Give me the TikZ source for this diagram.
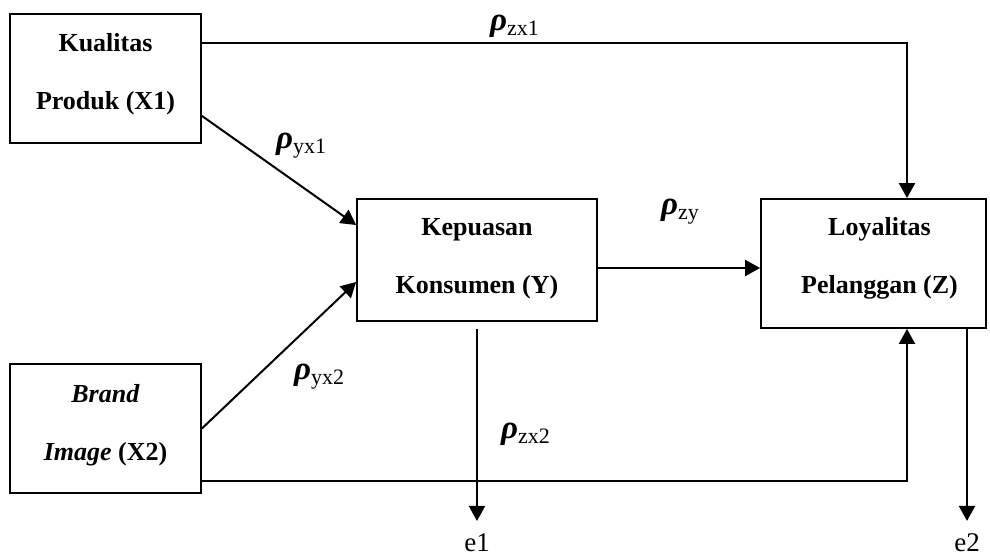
\documentclass[tikz,border=0pt]{standalone}
\usepackage{fontspec}
\setmainfont{Liberation Serif}
\usetikzlibrary{arrows.meta}
\newcommand\rhlab[1]{{\fontsize{33}{33}\selectfont\bfseries\itshape ρ}{\fontsize{22}{22}\selectfont\raisebox{-5pt}{#1}}}
\begin{document}
\begin{tikzpicture}[x=1pt,y=-1pt,
  box/.style={draw, line width=1.8pt, minimum width=#1, inner sep=0pt},
  box/.default=191pt,
  btxt/.style={inner sep=0pt, align=center, font=\fontsize{26}{58}\selectfont\bfseries},
  conn/.style={line width=2pt},
  arr/.style={conn, -{Triangle[length=15pt,width=16pt]}},
  lbl/.style={inner sep=0pt, anchor=base west},
  elbl/.style={inner sep=0pt, anchor=base, font=\fontsize{27}{27}\selectfont}]
\useasboundingbox (0,0) rectangle (990,559);
\node[box, minimum height=129pt] (X1) at (105.5,78.5) {};
\node[box, minimum height=129pt] (X2) at (105.5,428.5) {};
\node[box=240pt, minimum height=122pt] (Y) at (477,260) {};
\node[box=225pt, minimum height=129pt] (Z) at (873.5,263.5) {};
\node[btxt] (X1t) at ([yshift=4pt]X1.center) {Kualitas\\Produk (X1)};
\node[btxt] (X2t) at ([yshift=3pt]X2.center) {\textit{Brand}\\\textit{Image} (X2)};
\node[btxt] (Yt) at ([yshift=1pt]Y.center) {Kepuasan\\Konsumen (Y)};
\node[btxt] (Zt) at ([xshift=6pt,yshift=5pt]Z.center) {Loyalitas\\Pelanggan (Z)};
\node[elbl] (e1) at (477,551) {e1};
\node[elbl] (e2) at (967,551) {e2};
% connectors
\draw[arr] ([yshift=-30pt]X1.north east) -| ([xshift=33.5pt]Z.north);
\draw[arr] ([yshift=28pt]X1.south east) -- ([yshift=35pt]Y.west);
\draw[arr] (X2.east) -- ([yshift=-22pt]Y.west);
\draw[arr] ([yshift=13pt]X2.south east) -| ([xshift=33.5pt]Z.south);
\draw[arr] ([yshift=-8pt]Y.east) -- ([yshift=-8pt]Y.east -| Z.west);
\draw[arr] ([yshift=-7pt]Y.south) -- ([yshift=12pt]e1.north);
\draw[arr] (e2.north |- Z.south) -- ([yshift=12pt]e2.north);
% coefficient labels
\node[lbl] (pzx1) at (490,31) {\rhlab{zx1}};
\node[lbl] (pyx1) at (276,149) {\rhlab{yx1}};
\node[lbl] (pzy) at (661,214) {\rhlab{zy}};
\node[lbl] (pyx2) at (294,379) {\rhlab{yx2}};
\node[lbl] (pzx2) at (501,438) {\rhlab{zx2}};
\end{tikzpicture}
\end{document}
